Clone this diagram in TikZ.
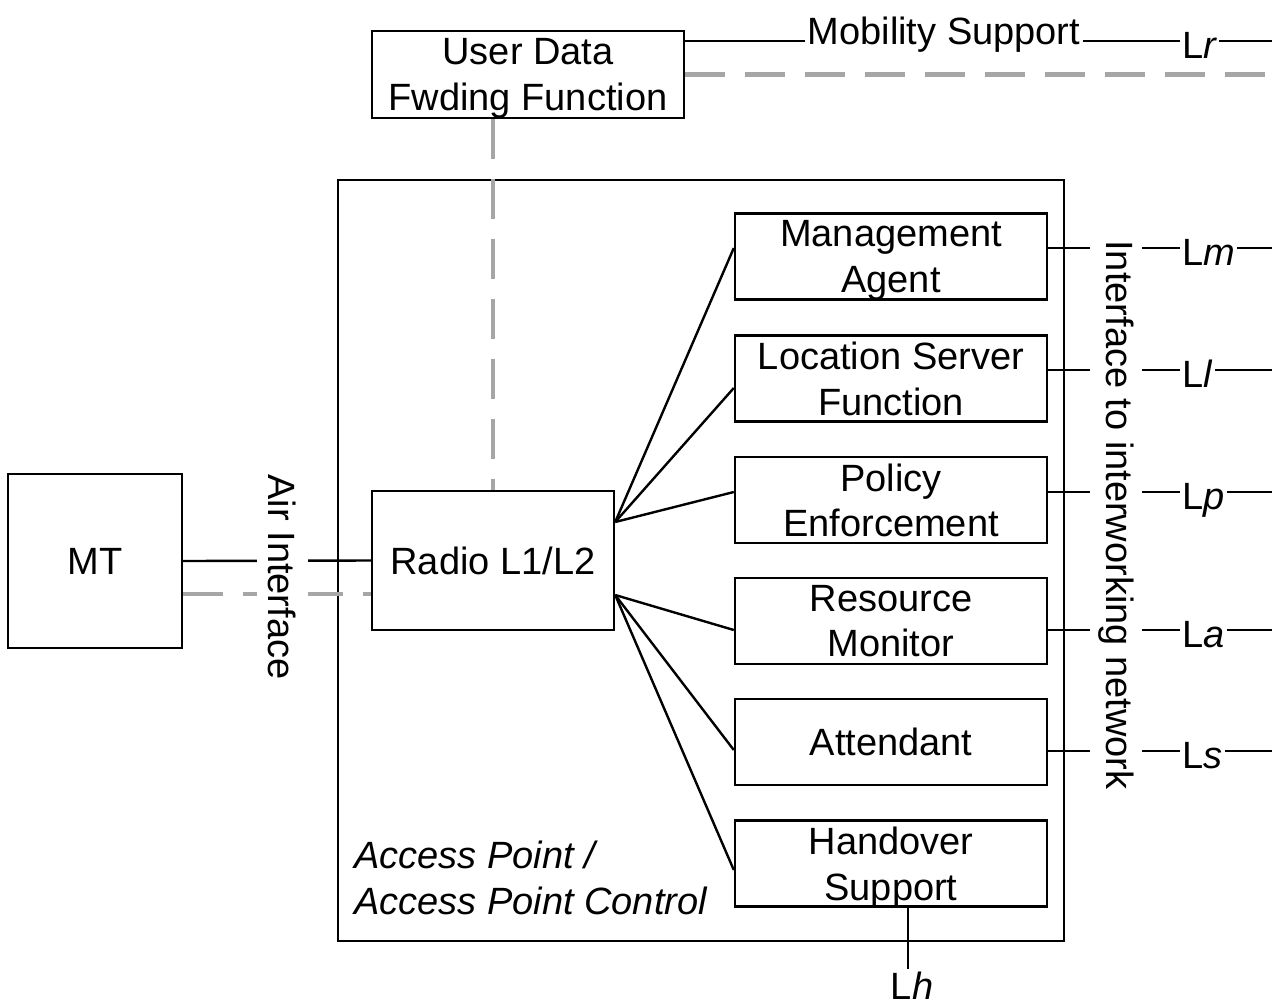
\documentclass[tikz,border=0pt]{standalone}
\usepackage{fontspec}
\setmainfont{Liberation Sans}
\newcommand\dfont{\fontsize{38}{45.5}\selectfont}
\definecolor{dgray}{RGB}{166,166,166}
\begin{document}
\begin{tikzpicture}[x=1pt,y=-1pt,
  box/.style={draw, line width=2.4pt, align=center, inner sep=0pt, font=\dfont, text depth=0pt},
  rbox/.style={box, minimum width=312pt, minimum height=86pt},
  txt/.style={font=\dfont, inner sep=2pt},
  lab/.style={txt, anchor=base west},
  conn/.style={line width=2.4pt},
  gdash/.style={line width=4.5pt, draw=dgray, dash pattern=on 40pt off 20pt},
  vtxt/.style={font=\dfont, rotate=-90, fill=white, inner sep=0pt, minimum height=51pt}]
\useasboundingbox (0,0) rectangle (1278,1005);

% boxes
\node[box, minimum width=726pt, minimum height=761pt] (ap) at (701,560.5) {};
\node[box, minimum width=312pt, minimum height=87pt] (udf) at (528,74.5) {User Data\\Fwding Function};
\node[box, minimum width=242pt, minimum height=139pt] (radio) at (493,560.5) {Radio L1/L2};
\node[box, minimum width=174pt, minimum height=174pt] (mt) at (95,561) {MT};
\node[rbox] (ma) at (891,256.5) {Management\\Agent};
\node[rbox] (ls) at (891,378.5) {Location Server\\Function};
\node[rbox] (pe) at (891,500) {Policy\\Enforcement};
\node[rbox] (rm) at (891,621) {Resource\\Monitor};
\node[rbox] (at) at (891,742) {Attendant};
\node[rbox] (hs) at (891,863.5) {Handover\\Support};
\node[txt, anchor=west, align=left, font=\dfont\itshape] (apl) at (352,878) {Access Point /\\Access Point Control};

% top labels
\node[txt, anchor=base, inner sep=3pt] (ms) at (944,44) {Mobility Support};
\node[lab] (lr) at (1180,58) {L\textit{r}};
\coordinate (endx) at (1272,0);
\coordinate (ud1) at ([yshift=33.5pt]udf.east);
\draw[conn] (ud1) -- (ud1 -| ms.west);
\draw[conn] (ud1 -| ms.east) -- (ud1 -| lr.west);
\draw[conn] (ud1 -| lr.east) -- (ud1 -| endx);
\draw[gdash] (udf.east) -- (udf.east -| endx);
\draw[gdash] (radio.north |- udf.south) -- (radio.north);

% MT -- radio
\coordinate (mtd) at ([yshift=-33pt]mt.east);
\draw[conn] (mt.east) -- (radio.west);
\draw[gdash] (mtd) -- (mtd -| radio.west);
\node[vtxt] (air) at (282,577) {Air Interface};

% fan
\coordinate (ru) at ([yshift=38.5pt]radio.east);
\coordinate (rd) at ([yshift=-34.5pt]radio.east);
\draw[conn] (ru) -- ([yshift=8.5pt]ma.west);
\draw[conn] (ru) -- ([yshift=-9.5pt]ls.west);
\draw[conn] (ru) -- ([yshift=8pt]pe.west);
\draw[conn] (rd) -- ([yshift=-9pt]rm.west);
\draw[conn] (rd) -- ([yshift=-8pt]at.west);
\draw[conn] (rd) -- ([yshift=-6.5pt]hs.west);

% right interfaces
\node[lab] (lm) at (1180,265) {L\textit{m}};
\node[lab] (ll) at (1180,387) {L\textit{l}};
\node[lab] (lp) at (1180,509) {L\textit{p}};
\node[lab] (la) at (1180,647) {L\textit{a}};
\node[lab] (lsl) at (1180,768) {L\textit{s}};
\coordinate (mae) at ([yshift=8.5pt]ma.east);
\coordinate (lse) at ([yshift=8.5pt]ls.east);
\coordinate (pee) at ([yshift=8pt]pe.east);
\coordinate (rme) at ([yshift=-9pt]rm.east);
\coordinate (ate) at ([yshift=-9pt]at.east);
\draw[conn] (mae) -- (mae -| lm.west) (mae -| lm.east) -- (mae -| endx);
\draw[conn] (lse) -- (lse -| ll.west) (lse -| ll.east) -- (lse -| endx);
\draw[conn] (pee) -- (pee -| lp.west) (pee -| lp.east) -- (pee -| endx);
\draw[conn] (rme) -- (rme -| la.west) (rme -| la.east) -- (rme -| endx);
\draw[conn] (ate) -- (ate -| lsl.west) (ate -| lsl.east) -- (ate -| endx);
\node[vtxt, minimum height=52pt] (iw) at (1116,515) {Interface to interworking network};

% handover
\node[txt, anchor=base] (lh) at (912,999) {L\textit{h}};
\coordinate (hsb) at ([xshift=17pt]hs.south);
\draw[conn] (hsb) -- (hsb |- lh.north);
\end{tikzpicture}
\end{document}
